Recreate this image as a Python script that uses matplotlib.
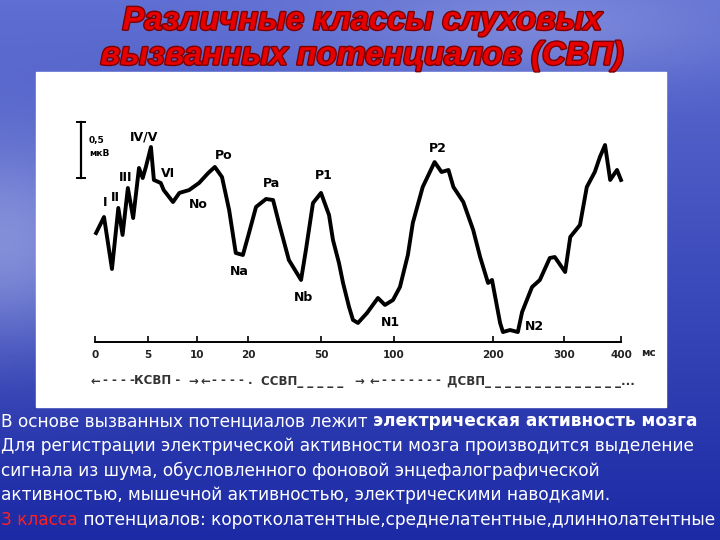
import numpy as np
import matplotlib.pyplot as plt
import matplotlib.patheffects as pe
from matplotlib.patches import Rectangle

title_lines = ["Различные классы слуховых", "вызванных потенциалов (СВП)"]

# time axis of the recording is not linear: ticks and their relative spacing
tick_ms = [0, 5, 10, 20, 50, 100, 200, 300, 400]
tick_labels = ["0", "5", "10", "20", "50", "100", "200", "300", "400"]
tick_pos = [0, 53, 102, 153, 226, 299, 398, 469, 526]

# evoked potential trace (ms, µV)
time_ms = [0.1, 0.85, 1.6, 2.2, 2.6, 3.1, 3.6, 4.15, 4.5, 4.8, 5.3, 5.6, 6.3, 6.6,
           7.55, 8.2, 9.2, 10.4, 12.2, 13.5, 14.9, 16.3, 17.6, 19.0, 20.4, 23.3,
           27.4, 30.3, 32.7, 36.8, 41.8, 43.8, 46.7, 50, 55.5, 58.2, 62.3, 65.1,
           69.2, 71.9, 75.3, 81.5, 89.0, 93.8, 99.3, 106, 114, 119, 129, 141, 148,
           155, 160, 170, 180, 187, 195, 199, 210, 214, 224, 235, 241, 255, 266,
           280, 287, 302, 311, 328, 340, 354, 363, 372, 381, 393, 400]
amp_uv = [0.955, 1.098, 0.634, 1.179, 0.938, 1.357, 1.089, 1.536, 1.446, 1.545,
          1.723, 1.429, 1.402, 1.339, 1.232, 1.313, 1.339, 1.402, 1.491, 1.545,
          1.455, 1.161, 0.777, 0.759, 0.955, 1.188, 1.259, 1.25, 1.045, 0.714,
          0.536, 0.804, 1.223, 1.313, 1.116, 0.893, 0.688, 0.509, 0.295, 0.179,
          0.152, 0.241, 0.375, 0.313, 0.357, 0.473, 0.759, 1.045, 1.366, 1.589,
          1.5, 1.518, 1.366, 1.232, 0.982, 0.741, 0.509, 0.536, 0.152, 0.071,
          0.089, 0.071, 0.25, 0.473, 0.536, 0.732, 0.741, 0.607, 0.92, 1.027,
          1.366, 1.5, 1.634, 1.741, 1.429, 1.518, 1.429]

peak_names = ["I", "II", "III", "IV/V", "VI", "No", "Po", "Na", "Pa", "Nb",
              "P1", "N1", "P2", "N2"]
peak_ms = [0.94, 1.89, 2.92, 4.62, 7.04, 10.2, 15.3, 18.2, 29.5, 43.0,
           52.1, 97.3, 144, 259]
peak_uv = [1.23, 1.27, 1.45, 1.81, 1.49, 1.21, 1.65, 0.61, 1.40, 0.38,
           1.47, 0.16, 1.71, 0.12]

# latency class notes under the axis: (text, x pixel)
note_parts = [("←", 90), ("- - - -", 103), ("КСВП -", 134), ("→", 188),
              ("←", 200), ("- - - - .", 212), ("ССВП_ _ _ _ _", 261), ("→", 354),
              ("←", 369), ("- - - - - - -", 382),
              ("ДСВП_ _ _ _ _ _ _ _ _ _ _ _ _ _...", 447)]

body_lines = [
    [("В основе вызванных потенциалов лежит ", "white", "normal"),
     ("электрическая активность мозга", "white", "bold")],
    [("Для регистрации электрической активности мозга производится выделение", "white", "normal")],
    [("сигнала из шума, обусловленного фоновой энцефалографической", "white", "normal")],
    [("активностью, мышечной активностью, электрическими наводками.", "white", "normal")],
    [("3 класса", "#ff2020", "normal"),
     (" потенциалов: коротколатентные,среднелатентные,длиннолатентные", "white", "normal")],
]


def fwd(t):
    return np.interp(t, tick_ms, tick_pos)


def inv(p):
    return np.interp(p, tick_pos, tick_ms)


fig = plt.figure(figsize=(7.2, 5.4), dpi=100)

# slide: background, white panel, texts (pixel coordinates)
bg = fig.add_axes([0, 0, 1, 1])
bg.set_xlim(0, 720)
bg.set_ylim(540, 0)
bg.axis("off")

yy, xx = np.mgrid[0:1:270j, 0:1:360j]
top = np.array([95, 110, 210]) / 255
bot = np.array([28, 42, 165]) / 255
img = top * (1 - yy[..., None]) + bot * yy[..., None]
blob = np.exp(-((xx - 0.0) ** 2 / 0.03 + (yy - 0.45) ** 2 / 0.04))
blob2 = np.exp(-((xx - 0.75) ** 2 / 0.08 + (yy - 0.05) ** 2 / 0.01))
light = np.array([175, 185, 235]) / 255
img = img + (light - img) * (0.6 * blob[..., None] + 0.35 * blob2[..., None])
bg.imshow(np.clip(img, 0, 1), extent=(0, 720, 540, 0), aspect="auto", zorder=0)

bg.add_patch(Rectangle((36, 72), 630, 335, color="white", zorder=1))

for i, line in enumerate(title_lines):
    bg.text(362, 21 + 35 * i, line, ha="center", va="center", fontsize=23.5,
            fontweight="bold", fontstyle="italic", color="#e60000",
            family="Liberation Sans", zorder=5,
            path_effects=[pe.withStroke(linewidth=2, foreground="#7a0000")])

# scale bar 0.5 µV
bg.plot([81, 81], [122, 178], color="black", lw=1.6, zorder=3)
bg.plot([77, 85], [122, 122], color="black", lw=1.4, zorder=3)
bg.plot([77, 85], [178, 178], color="black", lw=1.4, zorder=3)
bg.text(89, 141, "0,5", fontsize=6.5, fontweight="bold", va="center", zorder=3)
bg.text(89, 154, "мкВ", fontsize=6.5, fontweight="bold", va="center", zorder=3)
bg.text(641, 353, "мс", fontsize=7.5, fontweight="bold", va="center", color="#222222", zorder=3)

for txt, x in note_parts:
    bg.text(x, 381, txt, fontsize=8.5, fontweight="bold", va="center",
            color="#333333", zorder=3)

# body text with mixed styles
body_texts = []
for i, line in enumerate(body_lines):
    prev = None
    row = []
    for txt, col, wt in line:
        kw = dict(fontsize=13, color=col, fontweight=wt, zorder=5)
        if prev is None:
            prev = bg.text(1, 421 + 24.8 * i, txt, ha="left", va="center", **kw)
        else:
            prev = bg.annotate(txt, xy=(1, 0), xycoords=prev, ha="left", va="bottom", **kw)
        row.append(prev)
    body_texts.append(row)

# chart
ax = fig.add_axes([95 / 720, 1 - 342 / 540, 526 / 720, 270 / 540])
ax.patch.set_alpha(0)
ax.set_xscale("function", functions=(fwd, inv))
ax.plot(time_ms, amp_uv, color="black", lw=2.8, solid_joinstyle="round", clip_on=False)
for name, t, a in zip(peak_names, peak_ms, peak_uv):
    ax.text(t, a, name, ha="center", va="center", fontsize=9, fontweight="bold")

ax.set_xlim(0, 400)
ax.set_ylim(-0.018, 2.393)
ax.set_xticks(tick_ms, tick_labels)
ax.tick_params(axis="x", direction="in", length=4, width=1.2, labelsize=7.5,
               labelcolor="#222222", pad=6)
for lab in ax.get_xticklabels():
    lab.set_fontweight("bold")
ax.set_yticks([])
for side in ["top", "right", "left"]:
    ax.spines[side].set_visible(False)
ax.spines["bottom"].set_linewidth(1.4)

# shrink the body text so the widest line stays inside the slide
fig.canvas.draw()
r = fig.canvas.get_renderer()
widest = max(row[-1].get_window_extent(r).x1 - row[0].get_window_extent(r).x0
             for row in body_texts)
scale = 716 / widest
for row in body_texts:
    for t in row:
        t.set_fontsize(13 * scale)

fig.savefig("out.png", dpi=100)
